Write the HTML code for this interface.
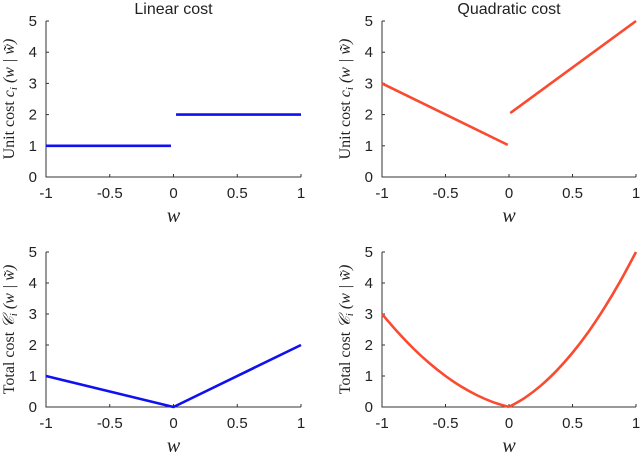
<!DOCTYPE html>
<html><head><meta charset="utf-8"><style>
body{margin:0;background:#fff}
svg text{font-family:"Liberation Sans",sans-serif;fill:#222}
.ser{font-family:"Liberation Serif",serif}
</style></head><body>
<svg id="c" width="640" height="453" xmlns="http://www.w3.org/2000/svg"></svg>
<script>
const xTicks=[-1,-0.5,0,0.5,1];
const xTickLabels=["-1","-0.5","0","0.5","1"];
const yTicks=[0,1,2,3,4,5];
const linUnitNeg=[[-1,1],[-0.02,1]];
const linUnitPos=[[0.02,2],[1,2]];
const linTotal=[[-1,1],[0,0],[1,2]];
const quadUnitNeg=[[-1,3],[-0.01,1.03]];
const quadUnitPos=[[0.01,2.05],[1,5]];
const quadTotalW=[-1,-0.875,-0.75,-0.625,-0.5,-0.375,-0.25,-0.125,0,0.125,0.25,0.375,0.5,0.625,0.75,0.875,1];
const quadTotalC=[3,2.41,1.875,1.406,1,0.656,0.375,0.156,0,0.297,0.6875,1.172,1.75,2.42,3.19,4.05,5];
const NS="http://www.w3.org/2000/svg";
const svg=document.getElementById('c');
function mk(t,a,p){const e=document.createElementNS(NS,t);for(const k in a)e.setAttribute(k,a[k]);(p||svg).appendChild(e);return e;}
function panel(x0,x1,y5,y0,title,ylabel,name){
  const g=mk('g',{});
  
  
  const sx=v=>x0+(v+1)/2*(x1-x0), sy=v=>y0+(y5-y0)*v/5;
  const ax=mk('path',{d:`M${x0},${y5}V${y0}H${x1}`,fill:'none',stroke:'#333','stroke-width':1},g);
  
  
  xTicks.forEach((v,i)=>{mk('line',{x1:sx(v),x2:sx(v),y1:y0,y2:y0-3,stroke:'#333'},g);
    const t=mk('text',{x:sx(v),y:y0+21,'text-anchor':'middle','font-size':15},g);t.textContent=xTickLabels[i];
    });
  yTicks.forEach(v=>{mk('line',{x1:x0,x2:x0+3,y1:sy(v),y2:sy(v),stroke:'#333'},g);
    const t=mk('text',{x:x0-9,y:sy(v)+5,'text-anchor':'end','font-size':15},g);t.textContent=v;
    });
  const xl=mk('text',{x:(x0+x1)/2,y:y0+45,'text-anchor':'middle','font-size':20,'font-style':'italic',class:'ser'},g);xl.textContent='w';
  
  const yl=mk('text',{transform:`translate(${x0-32},${(y0+y5)/2}) rotate(-90)`,'text-anchor':'middle','font-size':16,class:'ser'},g);yl.innerHTML=ylabel;
  
  if(title){const t=mk('text',{x:(x0+x1)/2,y:y5-7,'text-anchor':'middle','font-size':16},g);t.textContent=title;
    }
  return {g,sx,sy};
}
function line(p,pts,col,name){const l=mk('polyline',{points:pts.map(q=>p.sx(q[0])+','+p.sy(q[1])).join(' '),fill:'none',stroke:col,'stroke-width':2.6,'stroke-linejoin':'round'},p.g);
  }
function smooth(p,left,right,col,name){
  // Catmull-Rom per branch (left and right of the kink at 0)
  let d='';
  [left,right].forEach(pts=>{
    const P=pts.map(q=>[p.sx(q[0]),p.sy(q[1])]);
    d+='M'+P[0][0]+','+P[0][1];
    for(let i=0;i<P.length-1;i++){
      const a=P[Math.max(i-1,0)],b=P[i],c=P[i+1],e=P[Math.min(i+2,P.length-1)];
      d+=`C${b[0]+(c[0]-a[0])/6},${b[1]+(c[1]-a[1])/6} ${c[0]-(e[0]-b[0])/6},${c[1]-(e[1]-b[1])/6} ${c[0]},${c[1]}`;
    }
  });
  const l=mk('path',{d,fill:'none',stroke:col,'stroke-width':2.6,'stroke-linejoin':'round'},p.g);
  
}
const B='#1010f0',R='#fa4a30';
const uLab='Unit cost <tspan font-style="italic">c<tspan font-size="11" dy="3">i</tspan><tspan dy="-3"> (w | w̃)</tspan></tspan>';
const tLab='Total cost <tspan font-style="italic">𝒞<tspan font-size="11" dy="3">i</tspan><tspan dy="-3"> (w | w̃)</tspan></tspan>';
const p1=panel(46,301,21,177,'Linear cost',uLab,'linear-unit-panel');
line(p1,linUnitNeg,B,'unit-cost-neg');line(p1,linUnitPos,B,'unit-cost-pos');
const p2=panel(382,636,21,177,'Quadratic cost',uLab,'quadratic-unit-panel');
line(p2,quadUnitNeg,R,'unit-cost-neg');line(p2,quadUnitPos,R,'unit-cost-pos');
const p3=panel(46,301,252,407,'',tLab,'linear-total-panel');
line(p3,linTotal,B,'total-cost-line');
const p4=panel(382,636,252,407,'',tLab,'quadratic-total-panel');
const qpts=quadTotalW.map((w,i)=>[w,quadTotalC[i]]);
smooth(p4,qpts.filter(q=>q[0]<=0),qpts.filter(q=>q[0]>=0),R,'total-cost-curve');
</script>
</body></html>
